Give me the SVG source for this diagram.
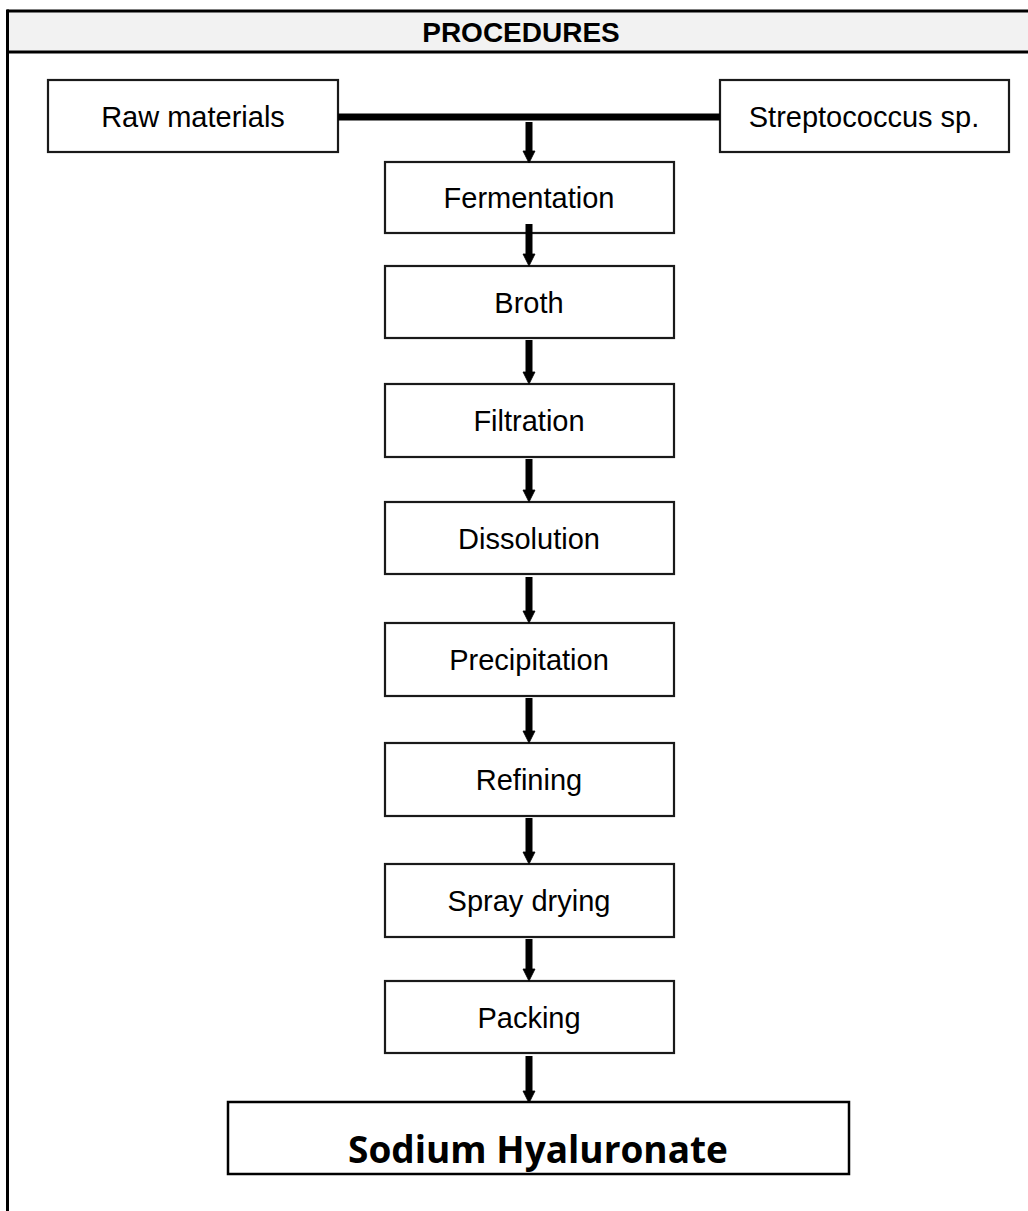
<svg xmlns="http://www.w3.org/2000/svg" width="1028" height="1211" viewBox="0 0 1028 1211">
<defs>
<style>
.box{fill:#fff;stroke:#1a1a1a;stroke-width:2.2}
.lbl{font-family:"Liberation Sans",Arial,sans-serif;font-size:29px;fill:#000;text-anchor:middle}
.shaft{stroke:#000;stroke-width:7;fill:none}
.head{fill:#000;stroke:#000;stroke-width:0.8}
</style>
</defs>
<rect x="0" y="0" width="1028" height="1211" fill="#fff"/>
<g id="frame">
<rect x="7" y="11" width="1030" height="41" fill="#f2f2f2"/>
<line x1="7" y1="11" x2="1028" y2="11" stroke="#000" stroke-width="3"/>
<line x1="7" y1="52" x2="1028" y2="52" stroke="#000" stroke-width="3"/>
<line x1="7.5" y1="9.5" x2="7.5" y2="1211" stroke="#000" stroke-width="3"/>
<text x="521" y="42" font-family="'Liberation Sans',Arial,sans-serif" font-size="28" font-weight="bold" text-anchor="middle">PROCEDURES</text>
</g>
<g id="raw"><rect class="box" x="48" y="80" width="290" height="72"/><text class="lbl" x="193" y="127">Raw materials</text></g>
<g id="strep"><rect class="box" x="720" y="80" width="289" height="72"/><text class="lbl" x="864" y="127">Streptococcus sp.</text></g>
<g id="fermentation"><rect class="box" x="385" y="162" width="289" height="71"/><text class="lbl" x="529" y="208">Fermentation</text></g>
<g id="broth"><rect class="box" x="385" y="266" width="289" height="72"/><text class="lbl" x="529" y="313">Broth</text></g>
<g id="filtration"><rect class="box" x="385" y="384" width="289" height="73"/><text class="lbl" x="529" y="431">Filtration</text></g>
<g id="dissolution"><rect class="box" x="385" y="502" width="289" height="72"/><text class="lbl" x="529" y="549">Dissolution</text></g>
<g id="precipitation"><rect class="box" x="385" y="623" width="289" height="73"/><text class="lbl" x="529" y="670">Precipitation</text></g>
<g id="refining"><rect class="box" x="385" y="743" width="289" height="73"/><text class="lbl" x="529" y="790">Refining</text></g>
<g id="spray"><rect class="box" x="385" y="864" width="289" height="73"/><text class="lbl" x="529" y="911">Spray drying</text></g>
<g id="packing"><rect class="box" x="385" y="981" width="289" height="72"/><text class="lbl" x="529" y="1028">Packing</text></g>
<g id="product"><rect x="228" y="1102" width="621" height="72" fill="#fff" stroke="#000" stroke-width="2.5"/><text x="538" y="1163" font-family="'Open Sans','Noto Sans',sans-serif" font-size="37" font-weight="bold" text-anchor="middle">Sodium Hyaluronate</text></g>
<g id="connectors">
<line class="shaft" x1="338" y1="117" x2="720" y2="117"/>
<line class="shaft" x1="529" y1="122" x2="529" y2="155"/><path class="head" d="M523,151 L535,151 L529,163 Z"/>
<line class="shaft" x1="529" y1="224" x2="529" y2="258"/><path class="head" d="M523,254 L535,254 L529,266 Z"/>
<line class="shaft" x1="529" y1="340" x2="529" y2="376"/><path class="head" d="M523,372 L535,372 L529,384 Z"/>
<line class="shaft" x1="529" y1="459" x2="529" y2="494"/><path class="head" d="M523,490 L535,490 L529,502 Z"/>
<line class="shaft" x1="529" y1="577" x2="529" y2="615"/><path class="head" d="M523,611 L535,611 L529,623 Z"/>
<line class="shaft" x1="529" y1="698" x2="529" y2="735"/><path class="head" d="M523,731 L535,731 L529,743 Z"/>
<line class="shaft" x1="529" y1="818" x2="529" y2="856"/><path class="head" d="M523,852 L535,852 L529,864 Z"/>
<line class="shaft" x1="529" y1="939" x2="529" y2="973"/><path class="head" d="M523,969 L535,969 L529,981 Z"/>
<line class="shaft" x1="529" y1="1056" x2="529" y2="1095"/><path class="head" d="M523,1091 L535,1091 L529,1103 Z"/>
</g>
</svg>
